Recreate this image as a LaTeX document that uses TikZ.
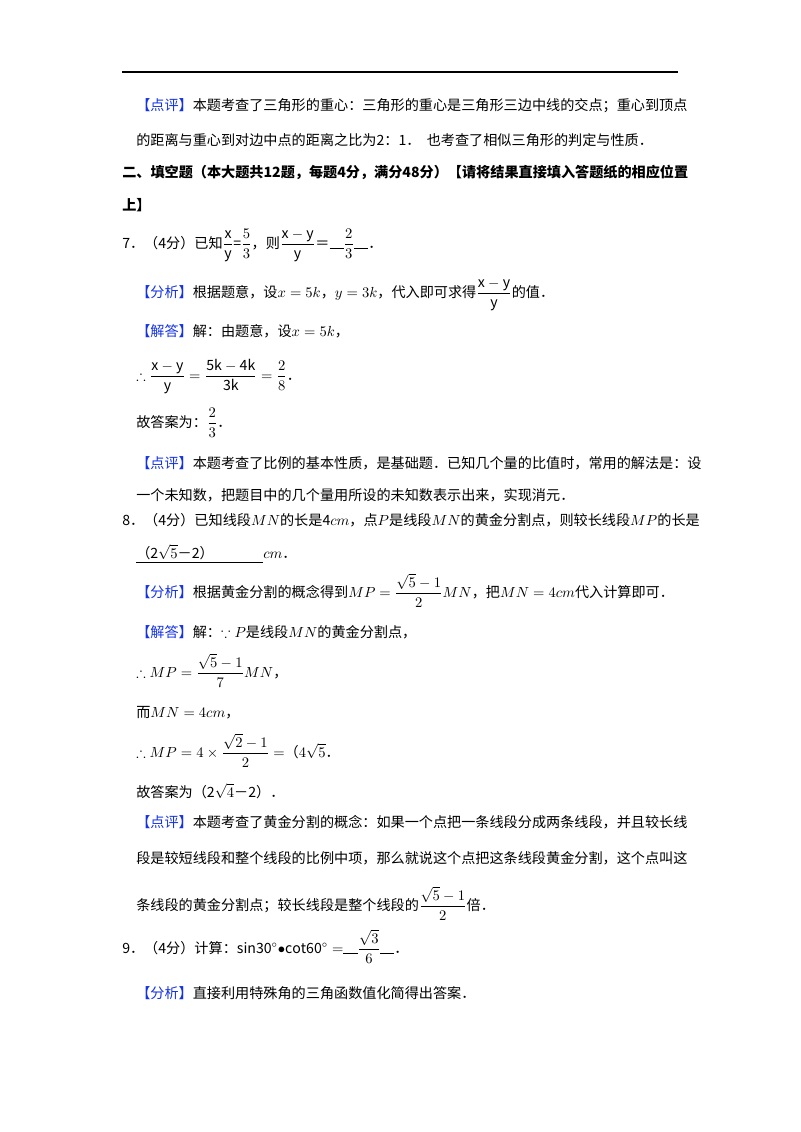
\documentclass[tikz,border=0pt]{standalone}
\usepackage{amsmath,amssymb}
\usepackage{fontspec}
\setmainfont{Noto Sans CJK SC}
\definecolor{tag}{RGB}{20,50,230}
\newcommand{\tg}[1]{\textcolor{tag}{【#1】}}
\newcommand{\bl}{\rule[-0.1ex]{1em}{0.4pt}}
\begin{document}
\begin{tikzpicture}[x=0.75pt,y=0.75pt,ln/.style={anchor=base west,inner sep=0pt,font=\fontsize{10.6pt}{12pt}\selectfont}]
\useasboundingbox (0,0) rectangle (800,-1132);
\draw[line width=0.8pt] (122,-72) coordinate (r1) -- (678,-72) coordinate (r2);
\node[ln] (l1) at (136,-110) {\tg{点评}本题考查了三角形的重心：三角形的重心是三角形三边中线的交点；重心到顶点};
\node[ln] (l2) at (136,-145) {的距离与重心到对边中点的距离之比为2：1．\ \ 也考查了相似三角形的判定与性质．};
\node[ln,font=\fontsize{10.6pt}{12pt}\selectfont\bfseries] (l3) at (122,-177) {二、填空题（本大题共12题，每题4分，满分48分）【请将结果直接填入答题纸的相应位置};
\node[ln,font=\fontsize{10.6pt}{12pt}\selectfont\bfseries] (l4) at (122,-210) {上】};
\node[ln] (l5) at (122,-248) {7．（4分）已知$\dfrac{\mathrm{x}}{\mathrm{y}}$=$\dfrac{5}{3}$，则$\dfrac{\mathrm{x-y}}{\mathrm{y}}$＝\bl$\dfrac{2}{3}$\bl．};
\node[ln] (l6) at (136,-297) {\tg{分析}根据题意，设$x=5k$，$y=3k$，代入即可求得$\dfrac{\mathrm{x-y}}{\mathrm{y}}$的值．};
\node[ln] (l7) at (136,-336) {\tg{解答}解：由题意，设$x=5k$，};
\node[ln] (l8) at (136,-380) {$\therefore\dfrac{\mathrm{x-y}}{\mathrm{y}}=\dfrac{\mathrm{5k-4k}}{\mathrm{3k}}=\dfrac{2}{8}$．};
\node[ln] (l9) at (136,-427) {故答案为：$\dfrac{2}{3}$．};
\node[ln] (l10) at (136,-468) {\tg{点评}本题考查了比例的基本性质，是基础题．已知几个量的比值时，常用的解法是：设};
\node[ln] (l11) at (136,-500) {一个未知数，把题目中的几个量用所设的未知数表示出来，实现消元．};
\node[ln] (l12) at (122,-525) {8．（4分）已知线段$MN$的长是4$cm$，点$P$是线段$MN$的黄金分割点，则较长线段$MP$的长是};
\node[ln] (l13) at (136,-558) {\underline{（2$\sqrt{5}$－2）\hspace{3.5em}}$cm$．};
\node[ln] (l14) at (136,-597) {\tg{分析}根据黄金分割的概念得到$MP=\dfrac{\sqrt{5}-1}{2}MN$，把$MN=4cm$代入计算即可．};
\node[ln] (l15) at (136,-637) {\tg{解答}解：$\because P$是线段$MN$的黄金分割点，};
\node[ln] (l16) at (136,-677) {$\therefore MP=\dfrac{\sqrt{5}-1}{7}MN$，};
\node[ln] (l17) at (136,-717) {而$MN=4cm$，};
\node[ln] (l18) at (136,-757) {$\therefore MP=4\times\dfrac{\sqrt{2}-1}{2}=$（$4\sqrt{5}$．};
\node[ln] (l19) at (136,-797) {故答案为（2$\sqrt{4}$－2）．};
\node[ln] (l20) at (136,-827) {\tg{点评}本题考查了黄金分割的概念：如果一个点把一条线段分成两条线段，并且较长线};
\node[ln] (l21) at (136,-863) {段是较短线段和整个线段的比例中项，那么就说这个点把这条线段黄金分割，这个点叫这};
\node[ln] (l22) at (136,-910) {条线段的黄金分割点；较长线段是整个线段的$\dfrac{\sqrt{5}-1}{2}$倍．};
\node[ln] (l23) at (122,-953) {9．（4分）计算：$\mathrm{sin30^\circ{\bullet}cot60^\circ}=$\bl$\dfrac{\sqrt{3}}{6}$\bl．};
\node[ln] (l24) at (136,-998) {\tg{分析}直接利用特殊角的三角函数值化简得出答案．};
\end{tikzpicture}
\end{document}
